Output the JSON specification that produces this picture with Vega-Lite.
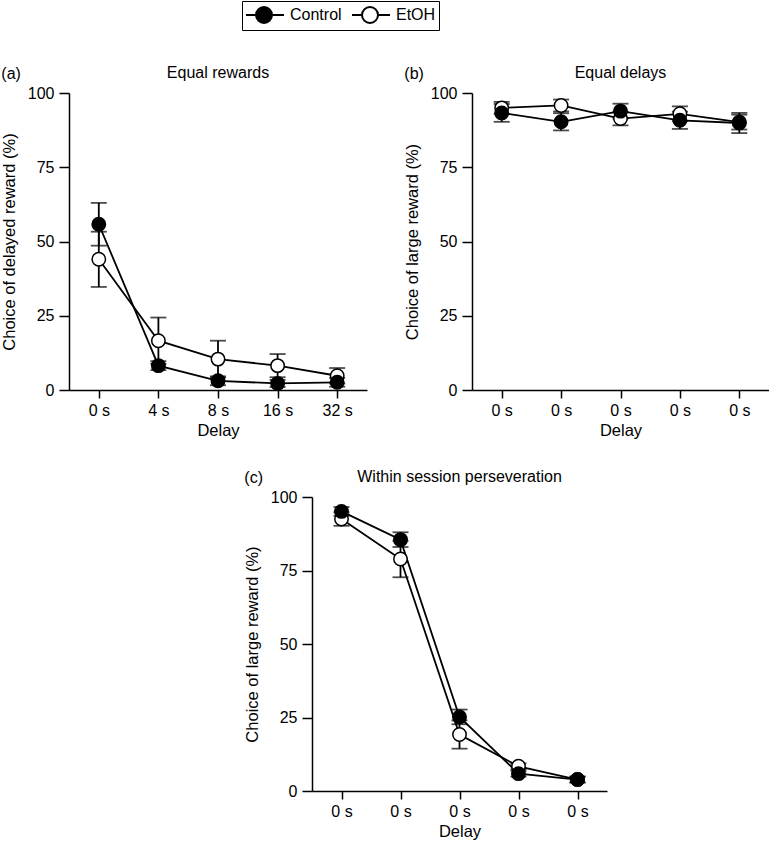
{
  "$schema": "https://vega.github.io/schema/vega-lite/v6.json",
  "padding": {"left": 1, "top": 0, "right": 0, "bottom": 0},
  "background": "white",
  "config": {
    "view": {"stroke": null},
    "font": "Liberation Sans",
    "title": {"font": "Liberation Sans", "fontSize": 16, "fontWeight": "normal", "color": "black", "offset": 4},
    "axis": {"domainColor": "black", "domainWidth": 1.5, "tickColor": "black", "tickWidth": 1.5, "tickSize": 8, "labelFont": "Liberation Sans", "labelFontSize": 16, "labelColor": "black", "titleFont": "Liberation Sans", "titleFontSize": 16.5, "titleFontWeight": "normal", "titleColor": "black", "grid": false},
    "axisX": {"labelAngle": 0, "labelPadding": 4, "titlePadding": 4},
    "axisY": {"tickSize": 10, "labelPadding": 5, "titlePadding": 10},
    "legend": {"orient": "none", "legendX": 173, "legendY": -92, "direction": "horizontal", "title": null, "symbolType": "M-1,0H0M1.6,0H2.8M0,0A0.8,0.8,0,1,1,1.6,0A0.8,0.8,0,1,1,0,0Z", "symbolSize": 400, "symbolStrokeColor": "black", "symbolStrokeWidth": 2, "labelFont": "Liberation Sans", "labelFontSize": 16, "labelColor": "black", "labelOffset": 23, "columnPadding": 6, "strokeColor": "black", "padding": 3}
  },
  "datasets": {
    "a": [
      {"delay": "0 s", "group": "EtOH", "mean": 44.0, "sem": 9.3},
      {"delay": "4 s", "group": "EtOH", "mean": 16.6, "sem": 7.8},
      {"delay": "8 s", "group": "EtOH", "mean": 10.4, "sem": 6.2},
      {"delay": "16 s", "group": "EtOH", "mean": 8.2, "sem": 3.9},
      {"delay": "32 s", "group": "EtOH", "mean": 4.8, "sem": 2.6},
      {"delay": "0 s", "group": "Control", "mean": 55.8, "sem": 7.2},
      {"delay": "4 s", "group": "Control", "mean": 8.2, "sem": 1.5},
      {"delay": "8 s", "group": "Control", "mean": 3.1, "sem": 1.5},
      {"delay": "16 s", "group": "Control", "mean": 2.2, "sem": 1.2},
      {"delay": "32 s", "group": "Control", "mean": 2.6, "sem": 1.5}
    ],
    "b": [
      {"pos": 1, "group": "EtOH", "mean": 95.0, "sem": 2.0},
      {"pos": 2, "group": "EtOH", "mean": 95.8, "sem": 2.0},
      {"pos": 3, "group": "EtOH", "mean": 91.4, "sem": 2.3},
      {"pos": 4, "group": "EtOH", "mean": 93.0, "sem": 2.5},
      {"pos": 5, "group": "EtOH", "mean": 90.2, "sem": 2.5},
      {"pos": 1, "group": "Control", "mean": 93.3, "sem": 3.0},
      {"pos": 2, "group": "Control", "mean": 90.3, "sem": 2.9},
      {"pos": 3, "group": "Control", "mean": 93.9, "sem": 2.5},
      {"pos": 4, "group": "Control", "mean": 90.8, "sem": 2.9},
      {"pos": 5, "group": "Control", "mean": 89.9, "sem": 3.4}
    ],
    "c": [
      {"pos": 1, "group": "EtOH", "mean": 92.5, "sem": 2.3},
      {"pos": 2, "group": "EtOH", "mean": 78.9, "sem": 6.2},
      {"pos": 3, "group": "EtOH", "mean": 19.2, "sem": 4.8},
      {"pos": 4, "group": "EtOH", "mean": 8.4, "sem": 1.0},
      {"pos": 5, "group": "EtOH", "mean": 3.9, "sem": 1.0},
      {"pos": 1, "group": "Control", "mean": 95.1, "sem": 1.5},
      {"pos": 2, "group": "Control", "mean": 85.5, "sem": 2.5},
      {"pos": 3, "group": "Control", "mean": 25.2, "sem": 2.5},
      {"pos": 4, "group": "Control", "mean": 5.9, "sem": 1.0},
      {"pos": 5, "group": "Control", "mean": 3.9, "sem": 1.0}
    ]
  },
  "resolve": {"scale": {"fill": "shared"}, "legend": {"fill": "shared"}},
  "spacing": 30,
  "vconcat": [
    {
      "spacing": 37,
      "resolve": {"scale": {"fill": "shared"}, "legend": {"fill": "shared"}},
      "hconcat": [
        {
          "title": {"text": "(a)", "anchor": "start", "frame": "bounds", "offset": -17},
          "resolve": {"scale": {"fill": "shared"}, "legend": {"fill": "shared"}},
          "hconcat": [
            {
              "width": 298, "height": 297,
              "title": {"text": "Equal rewards"},
              "data": {"name": "a"},
              "encoding": {"x": {"field": "delay", "type": "ordinal", "sort": ["0 s", "4 s", "8 s", "16 s", "32 s"], "scale": {"type": "point", "padding": 0.5}, "axis": {"title": "Delay"}}},
              "layer": [
                {"mark": {"type": "errorbar", "color": "black", "thickness": 1.8, "ticks": {"size": 16, "thickness": 1.8, "color": "black"}},
                 "encoding": {"y": {"field": "mean", "type": "quantitative", "scale": {"domain": [0, 100], "nice": false}, "title": "Choice of delayed reward (%)", "axis": {"values": [0, 25, 50, 75, 100]}}, "yError": {"field": "sem"}}},
                {"mark": {"type": "line", "color": "black", "strokeWidth": 1.8},
                 "encoding": {"y": {"field": "mean", "type": "quantitative", "title": "Choice of delayed reward (%)"}, "detail": {"field": "group"}}},
                {"mark": {"type": "point", "filled": true, "size": 180, "stroke": "black", "strokeWidth": 1.5, "opacity": 1},
                 "encoding": {"y": {"field": "mean", "type": "quantitative", "title": "Choice of delayed reward (%)"}, "fill": {"field": "group", "type": "nominal", "scale": {"domain": ["Control", "EtOH"], "range": ["black", "white"]}}}}
              ]
            }
          ]
        },
        {
          "title": {"text": "(b)", "anchor": "start", "frame": "bounds", "offset": -17},
          "resolve": {"scale": {"fill": "shared"}, "legend": {"fill": "shared"}},
          "hconcat": [
            {
              "width": 297, "height": 297,
              "title": {"text": "Equal delays"},
              "data": {"name": "b"},
              "encoding": {"x": {"field": "pos", "type": "ordinal", "scale": {"type": "point", "padding": 0.5}, "axis": {"title": "Delay", "labelExpr": "'0 s'"}}},
              "layer": [
                {"mark": {"type": "errorbar", "color": "black", "thickness": 1.8, "ticks": {"size": 16, "thickness": 1.8, "color": "black"}},
                 "encoding": {"y": {"field": "mean", "type": "quantitative", "scale": {"domain": [0, 100], "nice": false}, "title": "Choice of large reward (%)", "axis": {"values": [0, 25, 50, 75, 100]}}, "yError": {"field": "sem"}}},
                {"mark": {"type": "line", "color": "black", "strokeWidth": 1.8},
                 "encoding": {"y": {"field": "mean", "type": "quantitative", "title": "Choice of large reward (%)"}, "detail": {"field": "group"}}},
                {"mark": {"type": "point", "filled": true, "size": 180, "stroke": "black", "strokeWidth": 1.5, "opacity": 1},
                 "encoding": {"y": {"field": "mean", "type": "quantitative", "title": "Choice of large reward (%)"}, "fill": {"field": "group", "type": "nominal", "scale": {"domain": ["Control", "EtOH"], "range": ["black", "white"]}}}}
              ]
            }
          ]
        }
      ]
    },
    {
      "spacing": 0,
      "resolve": {"scale": {"fill": "shared"}, "legend": {"fill": "shared"}},
      "hconcat": [
        {"width": 175, "height": 10, "data": {"values": []}, "mark": "point"},
        {
          "title": {"text": "(c)", "anchor": "start", "frame": "bounds", "offset": -17},
          "resolve": {"scale": {"fill": "shared"}, "legend": {"fill": "shared"}},
          "hconcat": [
            {
              "width": 295, "height": 294,
              "title": {"text": "Within session perseveration"},
              "data": {"name": "c"},
              "encoding": {"x": {"field": "pos", "type": "ordinal", "scale": {"type": "point", "padding": 0.5}, "axis": {"title": "Delay", "labelExpr": "'0 s'"}}},
              "layer": [
                {"mark": {"type": "errorbar", "color": "black", "thickness": 1.8, "ticks": {"size": 16, "thickness": 1.8, "color": "black"}},
                 "encoding": {"y": {"field": "mean", "type": "quantitative", "scale": {"domain": [0, 100], "nice": false}, "title": "Choice of large reward (%)", "axis": {"values": [0, 25, 50, 75, 100]}}, "yError": {"field": "sem"}}},
                {"mark": {"type": "line", "color": "black", "strokeWidth": 1.8},
                 "encoding": {"y": {"field": "mean", "type": "quantitative", "title": "Choice of large reward (%)"}, "detail": {"field": "group"}}},
                {"mark": {"type": "point", "filled": true, "size": 180, "stroke": "black", "strokeWidth": 1.5, "opacity": 1},
                 "encoding": {"y": {"field": "mean", "type": "quantitative", "title": "Choice of large reward (%)"}, "fill": {"field": "group", "type": "nominal", "scale": {"domain": ["Control", "EtOH"], "range": ["black", "white"]}}}}
              ]
            }
          ]
        }
      ]
    }
  ]
}
